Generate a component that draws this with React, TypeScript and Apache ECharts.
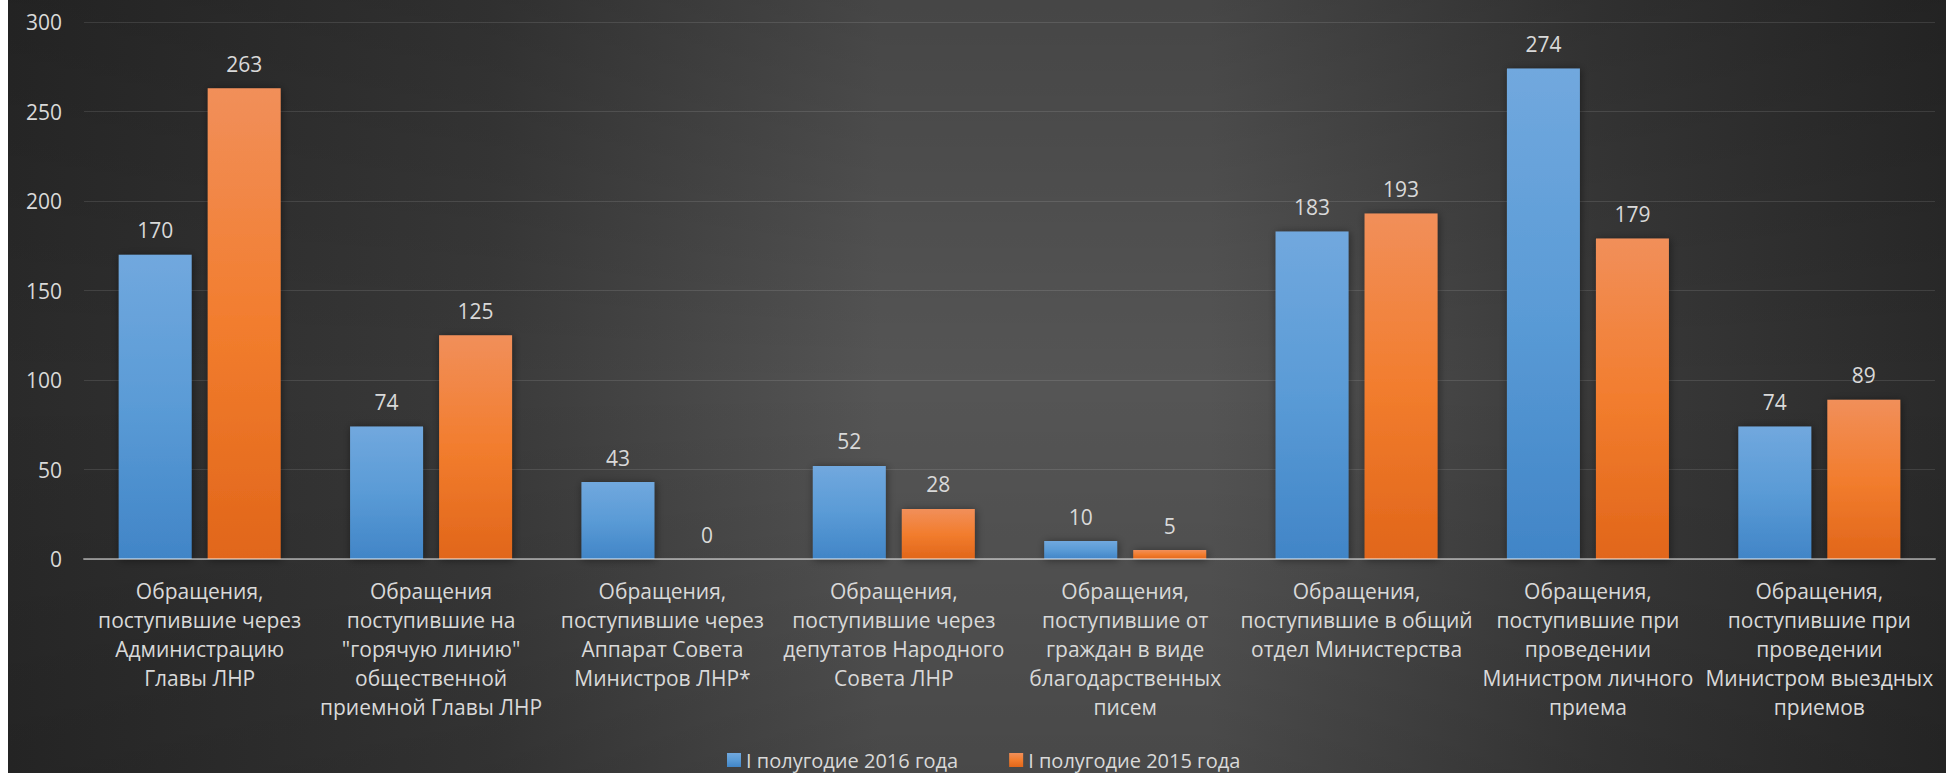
import React, { useEffect, useRef } from "react";
import * as echarts from "echarts";

const categories = [
  "Обращения,\nпоступившие через\nАдминистрацию\nГлавы ЛНР",
  "Обращения\nпоступившие на\n\"горячую линию\"\nобщественной\nприемной Главы ЛНР",
  "Обращения,\nпоступившие через\nАппарат Совета\nМинистров ЛНР*",
  "Обращения,\nпоступившие через\nдепутатов Народного\nСовета ЛНР",
  "Обращения,\nпоступившие от\nграждан в виде\nблагодарственных\nписем",
  "Обращения,\nпоступившие в общий\nотдел Министерства",
  "Обращения,\nпоступившие при\nпроведении\nМинистром личного\nприема",
  "Обращения,\nпоступившие при\nпроведении\nМинистром выездных\nприемов",
];
const values2016 = [170, 74, 43, 52, 10, 183, 274, 74];
const values2015 = [263, 125, 0, 28, 5, 193, 179, 89];
const seriesNames = ["I полугодие 2016 года", "I полугодие 2015 года"];
const yMin = 0;
const yMax = 300;
const yInterval = 50;

const FONT = "'Open Sans', sans-serif";
const TEXT = "#d9d9d9";

export default function App() {
  const ref = useRef<HTMLDivElement>(null);
  useEffect(() => {
    if (!ref.current) return;
    const chart = echarts.init(ref.current, undefined, { renderer: "svg" });
    const blue = new echarts.graphic.LinearGradient(0, 0, 0, 1, [
      { offset: 0, color: "#71a8de" },
      { offset: 0.5, color: "#5a9bd6" },
      { offset: 1, color: "#4185c7" },
    ]);
    const orange = new echarts.graphic.LinearGradient(0, 0, 0, 1, [
      { offset: 0, color: "#f18f5a" },
      { offset: 0.5, color: "#f27d2e" },
      { offset: 1, color: "#e1661a" },
    ]);
    const barCommon = {
      type: "bar" as const,
      barCategoryGap: "30%",
      barGap: "22%",
      label: {
        show: true,
        position: "top" as const,
        distance: 14,
        fontSize: 21,
        fontFamily: FONT,
        color: TEXT,
      },
    };
    chart.setOption({
      animation: false,
      backgroundColor: new echarts.graphic.LinearGradient(0, 0, 1, 0, [
        { offset: 0, color: "#2a2a2a" },
        { offset: 0.25, color: "#3a3a3a" },
        { offset: 0.45, color: "#555555" },
        { offset: 0.62, color: "#555555" },
        { offset: 0.82, color: "#3a3a3a" },
        { offset: 1, color: "#2a2a2a" },
      ]),
      graphic: [
        {
          type: "rect",
          z: -100,
          silent: true,
          shape: { x: 0, y: 0, width: 1938, height: 773 },
          style: {
            fill: new echarts.graphic.LinearGradient(0, 0, 0, 1, [
              { offset: 0, color: "rgba(0,0,0,0.18)" },
              { offset: 0.5, color: "rgba(0,0,0,0)" },
              { offset: 1, color: "rgba(0,0,0,0.15)" },
            ]),
          },
        },
      ],
      textStyle: { fontFamily: FONT },
      grid: { left: 76, right: 11, top: 22, bottom: 214, containLabel: false },
      legend: {
        data: seriesNames,
        left: 719,
        top: 750,
        padding: 0,
        itemWidth: 14,
        itemHeight: 14,
        itemGap: 51,
        icon: "rect",
        textStyle: { fontSize: 20, color: TEXT, fontFamily: FONT },
      },
      xAxis: {
        type: "category",
        data: categories,
        z: 10,
        axisTick: { show: false },
        axisLine: { lineStyle: { color: "rgba(255,255,255,0.45)", width: 2 } },
        axisLabel: {
          interval: 0,
          fontSize: 21,
          lineHeight: 29,
          margin: 17,
          color: TEXT,
          fontFamily: FONT,
          align: "center",
        },
      },
      yAxis: {
        type: "value",
        min: yMin,
        max: yMax,
        interval: yInterval,
        axisLine: { show: false },
        axisTick: { show: false },
        axisLabel: { fontSize: 21, color: TEXT, margin: 22, fontFamily: FONT },
        splitLine: { lineStyle: { color: "rgba(255,255,255,0.11)", width: 1 } },
      },
      series: [
        {
          ...barCommon,
          name: seriesNames[0],
          data: values2016,
          itemStyle: {
            color: blue,
            shadowBlur: 8,
            shadowColor: "rgba(0,0,0,0.45)",
            shadowOffsetX: 1,
            shadowOffsetY: 1,
          },
        },
        {
          ...barCommon,
          name: seriesNames[1],
          data: values2015,
          itemStyle: {
            color: orange,
            shadowBlur: 8,
            shadowColor: "rgba(0,0,0,0.45)",
            shadowOffsetX: 1,
            shadowOffsetY: 1,
          },
        },
      ],
    });
    return () => chart.dispose();
  }, []);
  return (
    <div
      ref={ref}
      style={{ position: "absolute", left: 8, top: 0, width: 1938, height: 773 }}
    />
  );
}
